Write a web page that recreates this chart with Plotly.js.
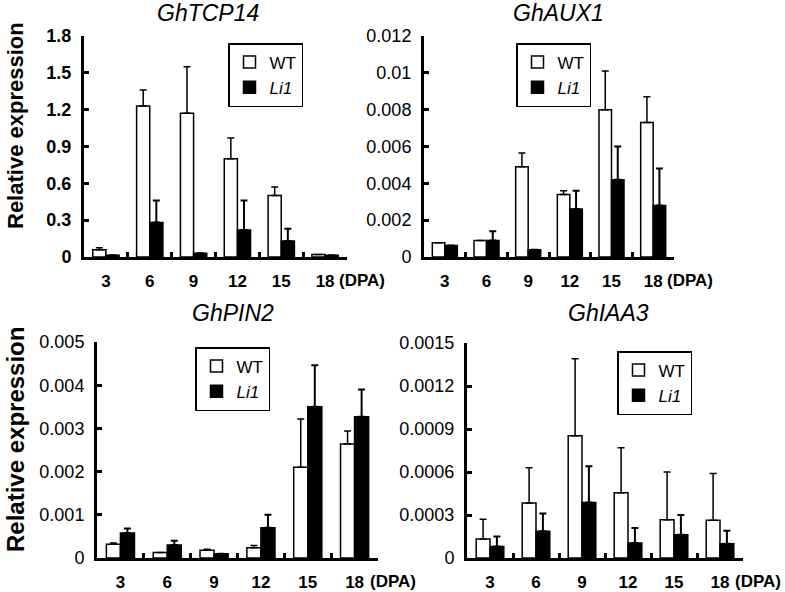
<!DOCTYPE html>
<html>
<head>
<meta charset="utf-8">
<script src="https://cdn.plot.ly/plotly-3.0.1.min.js"></script>
<style>html,body{margin:0;padding:0;background:#fff;}#chart{width:785px;height:592px;}</style>
</head>
<body>
<div id="chart"></div>
<script>
// ---- data ----
const categories = ['3', '6', '9', '12', '15', '18'];
const seriesNames = ['WT', '<i>Li1</i>'];
const panelTitles = ['GhTCP14', 'GhAUX1', 'GhPIN2', 'GhIAA3'];

const tcp14_wt      = [0.06, 1.23, 1.17, 0.80, 0.50, 0.02];
const tcp14_wt_err  = [0.015, 0.13, 0.38, 0.17, 0.07, 0];
const tcp14_li1     = [0.015, 0.28, 0.03, 0.22, 0.13, 0.015];
const tcp14_li1_err = [0, 0.18, 0, 0.24, 0.10, 0];

const aux1_wt      = [0.00077, 0.0009, 0.0049, 0.0034, 0.0080, 0.0073];
const aux1_wt_err  = [0, 0, 0.00075, 0.0002, 0.0021, 0.0014];
const aux1_li1     = [0.00063, 0.0009, 0.0004, 0.0026, 0.0042, 0.0028];
const aux1_li1_err = [0, 0.0005, 0, 0.0010, 0.0018, 0.0020];

const pin2_wt      = [0.00032, 0.00013, 0.00018, 0.00024, 0.0021, 0.00264];
const pin2_wt_err  = [0.00003, 0, 0.00002, 0.00005, 0.00112, 0.0003];
const pin2_li1     = [0.00058, 0.0003, 0.0001, 0.0007, 0.0035, 0.00327];
const pin2_li1_err = [0.0001, 0.0001, 0, 0.0003, 0.00096, 0.00063];

const iaa3_wt      = [0.000133, 0.000384, 0.000853, 0.000455, 0.000267, 0.000263];
const iaa3_wt_err  = [0.000137, 0.000246, 0.000537, 0.000315, 0.000333, 0.000327];
const iaa3_li1     = [0.00008, 0.000186, 0.000388, 0.000105, 0.000163, 0.0001];
const iaa3_li1_err = [0.00007, 0.000124, 0.000252, 0.000105, 0.000137, 0.00009];

const tcp14_ticks = [0, 0.3, 0.6, 0.9, 1.2, 1.5, 1.8];
const tcp14_ticktext = ['0', '0.3', '0.6', '0.9', '1.2', '1.5', '1.8'];
const aux1_ticks = [0, 0.002, 0.004, 0.006, 0.008, 0.01, 0.012];
const aux1_ticktext = ['0', '0.002', '0.004', '0.006', '0.008', '0.01', '0.012'];
const pin2_ticks = [0, 0.001, 0.002, 0.003, 0.004, 0.005];
const pin2_ticktext = ['0', '0.001', '0.002', '0.003', '0.004', '0.005'];
const iaa3_ticks = [0, 0.0003, 0.0006, 0.0009, 0.0012, 0.0015];
const iaa3_ticktext = ['0', '0.0003', '0.0006', '0.0009', '0.0012', '0.0015'];

// ---- layout geometry (pixels) ----
const W = 785, H = 592;
const FONT = 'Liberation Sans, Arial, sans-serif';
const panels = [
  {wt: tcp14_wt, wtErr: tcp14_wt_err, li: tcp14_li1, liErr: tcp14_li1_err, ticks: tcp14_ticks, ticktext: tcp14_ticktext,
   px: [84, 347], py: [36, 257], title: [208, 13], legend: [228, 43], tickBold: true, ytitle: [15, 126, 22]},
  {wt: aux1_wt, wtErr: aux1_wt_err, li: aux1_li1, liErr: aux1_li1_err, ticks: aux1_ticks, ticktext: aux1_ticktext,
   px: [424, 674], py: [36, 257], title: [558, 13], legend: [516, 43], tickBold: false},
  {wt: pin2_wt, wtErr: pin2_wt_err, li: pin2_li1, liErr: pin2_li1_err, ticks: pin2_ticks, ticktext: pin2_ticktext,
   px: [97, 378], py: [342, 558], title: [233, 313], legend: [195, 347], tickBold: false, ytitle: [15, 440, 24]},
  {wt: iaa3_wt, wtErr: iaa3_wt_err, li: iaa3_li1, liErr: iaa3_li1_err, ticks: iaa3_ticks, ticktext: iaa3_ticktext,
   px: [467, 743], py: [343, 558], title: [608, 313], legend: [617, 351], tickBold: false}
];

const data = [];
const layout = {
  width: W, height: H,
  margin: {l: 0, r: 0, t: 0, b: 0},
  paper_bgcolor: '#fff', plot_bgcolor: 'rgba(0,0,0,0)',
  barmode: 'group', bargap: 0.4, bargroupgap: 0,
  font: {family: FONT, color: '#000', size: 17},
  annotations: []
};

panels.forEach((p, i) => {
  const n = i === 0 ? '' : String(i + 1);
  const xa = 'x' + n, ya = 'y' + n;
  const lg = 'legend' + n;
  data.push({
    type: 'bar', x: categories, y: p.wt, name: seriesNames[0],
    xaxis: xa, yaxis: ya, legend: lg,
    marker: {color: '#fff', line: {color: '#000', width: 1.5}},
    error_y: {type: 'data', array: p.wtErr, symmetric: false, arrayminus: p.wtErr.map(() => 0),
              color: '#000', thickness: 1.5, width: 3.5},
    hoverinfo: 'skip'
  });
  data.push({
    type: 'bar', x: categories, y: p.li, name: seriesNames[1],
    xaxis: xa, yaxis: ya, legend: lg,
    marker: {color: '#000', line: {color: '#000', width: 1.5}},
    error_y: {type: 'data', array: p.liErr, symmetric: false, arrayminus: p.liErr.map(() => 0),
              color: '#000', thickness: 2, width: 3.5},
    hoverinfo: 'skip'
  });
  layout['xaxis' + n] = {
    domain: [p.px[0] / W, p.px[1] / W], anchor: ya,
    type: 'category', range: [-0.5, 5.5],
    showline: true, linecolor: '#000', linewidth: 3,
    ticks: 'inside', tickson: 'boundaries', ticklen: 5, tickwidth: 3, tickcolor: '#000',
    tickvals: categories, ticktext: categories, ticklabelstandoff: 7,
    tickfont: {family: FONT, size: 17, color: '#000', weight: 'bold'},
    showgrid: false, zeroline: false, fixedrange: true
  };
  layout['yaxis' + n] = {
    domain: [1 - p.py[1] / H, 1 - p.py[0] / H], anchor: xa,
    range: [0, p.ticks[p.ticks.length - 1]],
    showline: true, linecolor: '#000', linewidth: 3,
    ticks: 'inside', ticklen: 5, tickwidth: 3, tickcolor: '#000',
    tickvals: p.ticks, ticktext: p.ticktext, ticklabelstandoff: 6,
    tickfont: {family: FONT, size: 18, color: '#000', weight: p.tickBold ? 'bold' : 'normal'},
    showgrid: false, zeroline: false, fixedrange: true
  };
  layout[lg] = {
    x: p.legend[0] / W, y: 1 - p.legend[1] / H, xanchor: 'left', yanchor: 'top',
    xref: 'paper', yref: 'paper',
    bordercolor: '#000', borderwidth: 1.5, bgcolor: '#fff',
    font: {family: FONT, size: 17, color: '#000'},
    tracegroupgap: 0, itemwidth: 30
  };
  layout.annotations.push({
    xref: 'paper', yref: 'paper', x: p.title[0] / W, y: 1 - p.title[1] / H,
    xanchor: 'center', yanchor: 'middle', showarrow: false,
    text: '<i>' + panelTitles[i] + '</i>', font: {family: FONT, size: 23, color: '#000'}
  });
  layout.annotations.push({
    xref: xa, yref: 'paper', x: 5.28, y: 1 - (p.py[1] + 23) / H,
    xanchor: 'left', yanchor: 'middle', showarrow: false,
    text: '(DPA)', font: {family: FONT, size: 17, color: '#000', weight: 'bold'}
  });
  if (p.ytitle) {
    layout.annotations.push({
      xref: 'paper', yref: 'paper', x: p.ytitle[0] / W, y: 1 - p.ytitle[1] / H,
      xanchor: 'center', yanchor: 'middle', showarrow: false, textangle: -90,
      text: 'Relative expression', font: {family: FONT, size: p.ytitle[2], color: '#000', weight: 'bold'}
    });
  }
});

Plotly.newPlot('chart', data, layout, {staticPlot: true, displayModeBar: false});
</script>
</body>
</html>
